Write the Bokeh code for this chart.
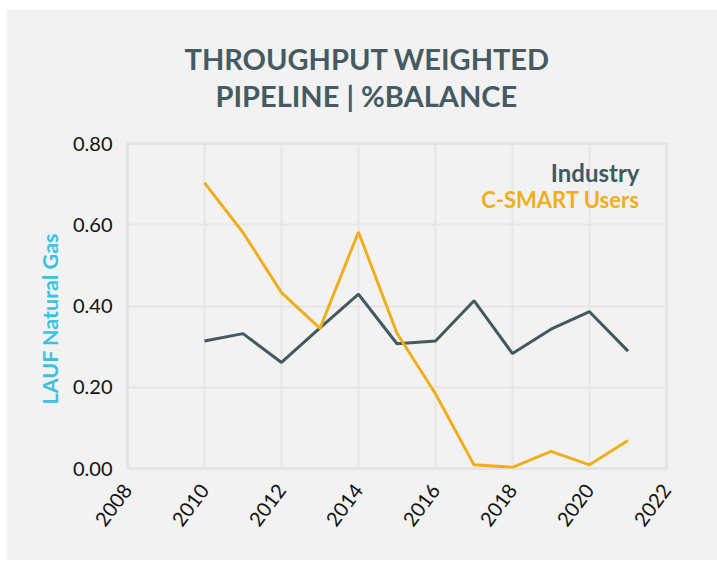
from bokeh.plotting import figure
from bokeh.models import Range1d, FixedTicker, NumeralTickFormatter, Title, Label
from bokeh.embed import file_html
from bokeh.resources import INLINE

years = [2010, 2011, 2012, 2013, 2014, 2015, 2016, 2017, 2018, 2019, 2020, 2021]
industry = [0.314, 0.332, 0.261, 0.346, 0.429, 0.307, 0.314, 0.413, 0.283, 0.343, 0.386, 0.289]
csmart = [0.703, 0.581, 0.433, 0.345, 0.582, 0.333, 0.184, 0.009, 0.003, 0.042, 0.009, 0.069]
x_ticks = [2008, 2010, 2012, 2014, 2016, 2018, 2020, 2022]
y_ticks = [0.0, 0.2, 0.4, 0.6, 0.8]
title_lines = ["THROUGHPUT WEIGHTED", "PIPELINE | %BALANCE"]
y_label = "LAUF Natural Gas"

BG = "#f2f2f2"
SLATE = "#42595f"
GOLD = "#f0ad1c"
CYAN = "#3dc1df"
FONT = "Lato"

p = figure(width=711, height=551, output_backend="svg", toolbar_location=None,
           x_range=Range1d(2008, 2022), y_range=Range1d(0, 0.8),
           min_border_left=121, min_border_right=51, min_border_top=134, min_border_bottom=92)
p.margin = (9, 0, 0, 6)
p.background_fill_color = BG
p.border_fill_color = BG
p.outline_line_color = "#e4e4e4"
p.outline_line_width = 3

# spacer between plot frame and the two title lines
p.add_layout(Title(text=" ", text_font=FONT, text_font_size="24px", standoff=0), "above")
for ln, off in [(title_lines[1], 88), (title_lines[0], 57)]:
    p.add_layout(Title(text=ln, align="left", offset=off, text_font=FONT, text_font_style="bold",
                       text_font_size="29px", text_color="#455b61", standoff=0), "above")

p.add_layout(Title(text=y_label, align="left", offset=64, text_font=FONT, text_font_style="bold",
                   text_font_size="21.5px", text_color=CYAN, standoff=14), "left")

p.xaxis.ticker = FixedTicker(ticks=x_ticks)
p.xgrid.ticker = FixedTicker(ticks=x_ticks)
p.xaxis.major_label_orientation = 0.93
p.yaxis.ticker = FixedTicker(ticks=y_ticks)
p.yaxis.formatter = NumeralTickFormatter(format="0.00")
for ax in (p.xaxis, p.yaxis):
    ax.axis_line_color = None
    ax.major_tick_line_color = None
    ax.minor_tick_line_color = None
    ax.major_label_text_font = FONT
    ax.major_label_text_font_size = "20px"
    ax.major_label_text_color = "#111111"
p.xaxis.major_label_text_align = "center"
p.xaxis.major_label_text_baseline = "middle"
p.yaxis.major_label_standoff = 9
p.xaxis.major_label_standoff = 12
p.grid.grid_line_color = "#e6e6e6"
p.grid.grid_line_width = 2

p.line(years, industry, line_color=SLATE, line_width=3)
p.line(years, csmart, line_color=GOLD, line_width=3)

p.add_layout(Label(x=512, y=296, x_units="screen", y_units="screen", text="Industry",
                   text_align="right", text_baseline="alphabetic", text_font=FONT,
                   text_font_style="bold", text_font_size="24px", text_color=SLATE))
p.add_layout(Label(x=512, y=269, x_units="screen", y_units="screen", text="C-SMART Users",
                   text_align="right", text_baseline="alphabetic", text_font=FONT,
                   text_font_style="bold", text_font_size="22px", text_color=GOLD))

open("out.html", "w").write(file_html(p, INLINE))
